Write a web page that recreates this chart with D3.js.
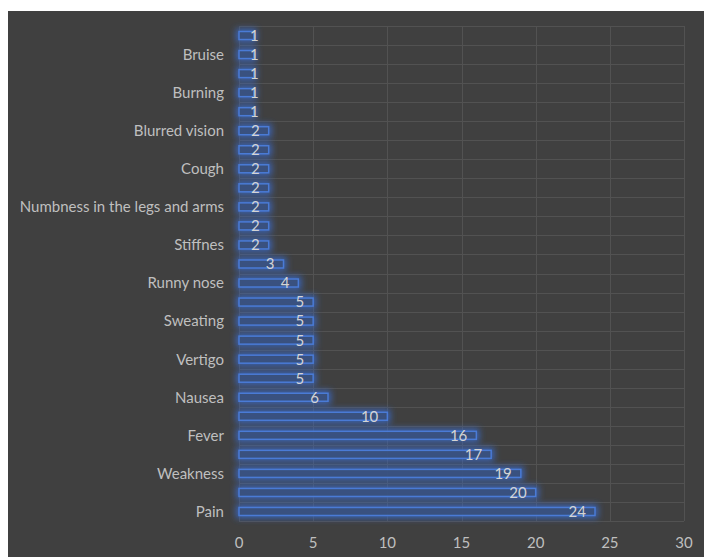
<!DOCTYPE html>
<html>
<head>
<meta charset="utf-8">
<script src="https://cdn.jsdelivr.net/npm/d3@7"></script>
<style>
  html, body { margin: 0; padding: 0; background: #ffffff; }
  svg { display: block; }
</style>
</head>
<body>
<svg id="chart" width="704" height="557"></svg>
<script>
// Symptoms, listed from the bottom bar upward. Empty names are categories whose
// labels are skipped on the axis (only every second label fits).
const symptoms = [
  "Pain", "", "Weakness", "", "Fever", "", "Nausea", "", "Vertigo", "",
  "Sweating", "", "Runny nose", "", "Stiffnes", "", "Numbness in the legs and arms", "",
  "Cough", "", "Blurred vision", "", "Burning", "", "Bruise", ""
];
const counts = [
  24, 20, 19, 17, 16, 10, 6, 5, 5, 5,
  5, 5, 4, 3, 2, 2, 2, 2,
  2, 2, 2, 1, 1, 1, 1, 1
];
const xTicks = [0, 5, 10, 15, 20, 25, 30];

const svg = d3.select("#chart");
const W = 704, H = 557;
const font = "Lato, 'Open Sans', 'DejaVu Sans', sans-serif";

// dark chart area
svg.append("rect").attr("x", 8).attr("y", 11).attr("width", W - 8).attr("height", H - 11)
  .attr("fill", "#404040");

const plot = { left: 239, right: 684, top: 26, bottom: 521 };

const x = d3.scaleLinear().domain([0, 30]).range([plot.left, plot.right]);
const idx = d3.range(counts.length);
const y = d3.scaleBand().domain(idx).range([plot.bottom, plot.top]).paddingInner(0).paddingOuter(0);

const defs = svg.append("defs");
const glow = defs.append("filter").attr("id", "glow")
  .attr("x", "-50%").attr("y", "-200%").attr("width", "200%").attr("height", "500%");
glow.append("feGaussianBlur").attr("stdDeviation", 3);

// gridlines
const grid = svg.append("g").attr("stroke", "#525252").attr("stroke-width", 1);
grid.selectAll("line.v").data(xTicks).join("line").attr("class", "v")
  .attr("x1", d => Math.round(x(d)) + 0.5).attr("x2", d => Math.round(x(d)) + 0.5)
  .attr("y1", plot.top).attr("y2", plot.bottom);
const bounds = d3.range(counts.length + 1).map(i => plot.bottom - i * y.step());
grid.selectAll("line.h").data(bounds).join("line").attr("class", "h")
  .attr("x1", plot.left).attr("x2", plot.right)
  .attr("y1", d => Math.round(d) + 0.5).attr("y2", d => Math.round(d) + 0.5);

const barH = 8;
const barY = i => y(i) + (y.bandwidth() - barH) / 2;

// soft blue halo behind each bar
svg.append("g").attr("filter", "url(#glow)")
  .selectAll("rect").data(idx).join("rect")
  .attr("x", x(0) - 3).attr("y", i => barY(i) - 3)
  .attr("width", i => x(counts[i]) - x(0) + 6).attr("height", barH + 6)
  .attr("fill", "#3a68c4").attr("opacity", 0.85);

// outlined bars
svg.append("g").selectAll("rect").data(idx).join("rect")
  .attr("x", x(0)).attr("y", barY)
  .attr("width", i => x(counts[i]) - x(0)).attr("height", barH)
  .attr("fill", "#3a4c70").attr("fill-opacity", 0.75)
  .attr("stroke", "#4a7bd6").attr("stroke-width", 1.5);

// value labels near the bar ends
const vals = svg.append("g").attr("font-family", font).attr("font-size", 15).attr("fill", "#d4d4d4");
vals.selectAll("text").data(idx).join("text")
  .text(i => counts[i])
  .attr("text-anchor", "end")
  .attr("y", i => y(i) + y.bandwidth() / 2)
  .attr("dy", "0.36em")
  .attr("x", function (i) {
    const w = this.getComputedTextLength();
    return Math.max(x(counts[i]) - 9, x(0) + 11 + w);
  });

// category axis
const yAxis = svg.append("g").attr("font-family", font).attr("font-size", 15).attr("fill", "#bfbfbf");
yAxis.selectAll("text").data(idx.filter(i => symptoms[i] !== "")).join("text")
  .attr("x", 224).attr("y", i => y(i) + y.bandwidth() / 2).attr("dy", "0.36em")
  .attr("text-anchor", "end").text(i => symptoms[i]);

// value axis
const xAxis = svg.append("g").attr("font-family", font).attr("font-size", 15).attr("fill", "#bfbfbf");
xAxis.selectAll("text").data(xTicks).join("text")
  .attr("x", d => x(d)).attr("y", 543).attr("dy", "0.36em")
  .attr("text-anchor", "middle").text(d => d);
</script>
</body>
</html>
